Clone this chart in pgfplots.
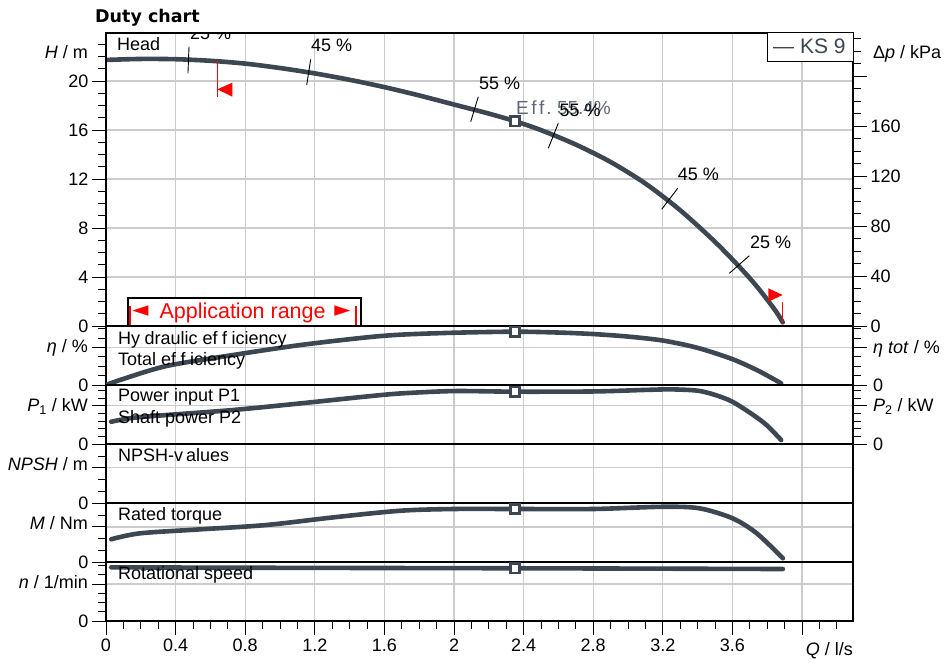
\documentclass[border=0pt]{standalone}
\usepackage{fontspec}
\setmainfont{Liberation Sans}
\newfontfamily\titlefont{DejaVu Sans}
\newfontfamily\symfont{DejaVu Sans}
\usepackage{pgfplots}
\pgfplotsset{compat=1.18}
\definecolor{crv}{RGB}{61,71,82}
\definecolor{gridc}{RGB}{204,204,204}
\definecolor{effgrey}{RGB}{95,105,118}
\newcommand{\fs}{\fontsize{18}{21}\selectfont}

\pgfplotsset{
 panel/.style={
  scale only axis, width=747pt, xmin=0, xmax=4.2931,
  xtick={0,0.4,0.8,1.2,1.6,2,2.4,2.8,3.2,3.6,4},
  minor xtick={0.1,0.2,0.3,0.5,0.6,0.7,0.9,1.0,1.1,1.3,1.4,1.5,1.7,1.8,1.9,2.1,2.2,2.3,2.5,2.6,2.7,2.9,3.0,3.1,3.3,3.4,3.5,3.7,3.8,3.9,4.1,4.2},
  xmajorgrids, ymajorgrids,
  major grid style={gridc, line width=1.2pt},
  tick align=outside,
  major tick length=14pt, minor tick length=8pt,
  every tick/.style={black, line width=0.9pt},
  axis line style={black, line width=1.3pt},
  ymin=0,
  ticklabel style={font=\fs},
  /pgf/number format/assume math mode=true,
  anchor=south west,
 },
 upper/.style={xticklabels={}, every x tick/.append style={draw=none}},
 curve/.style={crv, line width=4.6pt, line cap=round, smooth, no marks},
 op/.style={only marks, mark=square*, mark size=4.6pt, mark options={fill=white, draw=crv, line width=2.5pt}},
 effmark/.style={black, line width=0.9pt, no marks},
}

\begin{document}
\begin{tikzpicture}
\useasboundingbox (0,0) rectangle (944pt,663pt);

% ---------------- Head panel
\begin{axis}[panel, upper, at={(106pt,337pt)}, height=293pt, ymax=23.92,
  ytick={0,4,8,12,16,20}, yticklabels={0,4,8,12,16,20},
  minor ytick={1,2,3,5,6,7,9,10,11,13,14,15,17,18,19,21,22,23},
  ytick pos=left]
\addplot[curve] coordinates {
(0,21.72) (0.2,21.80) (0.4,21.78) (0.6,21.65) (0.8,21.42) (1.0,21.06)
(1.2,20.62) (1.4,20.10) (1.6,19.50) (1.8,18.82) (2.0,18.08) (2.2,17.34)
(2.35,16.72) (2.5,15.99) (2.7,14.81) (2.9,13.39) (3.1,11.63) (3.3,9.45)
(3.5,6.87) (3.65,4.68) (3.75,3.06) (3.85,1.20) (3.889,0.30)};
\addplot[op] coordinates {(2.35,16.72)};
% efficiency marks on the head curve
\addplot[effmark] coordinates {(0.477,22.80) (0.471,20.63)};
\addplot[effmark] coordinates {(1.1764,21.77) (1.1534,19.67)};
\addplot[effmark] coordinates {(2.1397,18.72) (2.0960,16.68)};
\addplot[effmark] coordinates {(2.5994,16.55) (2.5420,14.51)};
\addplot[effmark] coordinates {(3.2856,11.24) (3.1937,9.53)};
\addplot[effmark] coordinates {(3.6971,5.74) (3.5822,4.30)};
% application range flags
\addplot[red, line width=1.3pt, no marks] coordinates {(0.6397,21.66) (0.6397,18.72)};
\addplot[fill=red, draw=none, no marks] coordinates {(0.6397,19.32) (0.7259,19.86) (0.7259,18.72) (0.6397,19.32)};
\addplot[red, line width=1.3pt, no marks] coordinates {(3.889,1.98) (3.889,0.22)};
\addplot[fill=red, draw=none, no marks] coordinates {(3.806,3.08) (3.806,1.98) (3.889,2.53) (3.806,3.08)};
\end{axis}

% Delta p axis
\begin{axis}[scale only axis, width=747pt, height=293pt, at={(106pt,337pt)}, anchor=south west,
  xmin=0, xmax=4.2931, xtick=\empty, ymin=0, ymax=234.4,
  ytick={0,40,80,120,160,200}, yticklabels={0,40,80,120,160,{}},
  minor ytick={10,20,30,50,60,70,90,100,110,130,140,150,170,180,190,210,220,230},
  ytick pos=right, yticklabel pos=right,
  tick align=outside, major tick length=14pt, minor tick length=8pt,
  every tick/.style={black, line width=0.9pt},
  axis line style={black, line width=1.3pt},
  ticklabel style={font=\fs},
  /pgf/number format/assume math mode=true]
\end{axis}

% ---------------- Efficiency panel
\begin{axis}[panel, upper, at={(106pt,278pt)}, height=59pt, ymax=62.77,
  ytick={0,40}, yticklabels={0,{}}, minor ytick={10,20,30,50,60},
  ytick pos=both, yticklabel pos=left]
\addplot[curve] coordinates {
(0.00,0.0) (0.10,6.5) (0.35,20.3) (0.73,31.9) (1.12,42.6) (1.50,50.7)
(1.70,53.6) (2.00,55.6) (2.35,56.7) (2.60,55.8) (2.80,54.2) (3.00,51.5)
(3.20,47.3) (3.40,39.5) (3.60,27.5) (3.75,15.0) (3.88,1.8)};
\addplot[op] coordinates {(2.35,56.7)};
\end{axis}

% ---------------- Power panel
\begin{axis}[panel, upper, at={(106pt,219pt)}, height=59pt, ymax=0.7692,
  ytick={0,0.5}, yticklabels={0,{}}, minor ytick={0.1,0.2,0.3,0.4,0.6,0.7},
  ytick pos=both, yticklabel pos=left]
\addplot[curve] coordinates {
(0.03,0.29) (0.15,0.34) (0.35,0.378) (0.73,0.443) (1.12,0.530) (1.50,0.620)
(1.70,0.660) (2.00,0.690) (2.35,0.682) (2.80,0.685) (3.10,0.705) (3.25,0.712)
(3.40,0.695) (3.50,0.640) (3.60,0.551) (3.72,0.378) (3.80,0.24) (3.88,0.052)};
\addplot[op] coordinates {(2.35,0.682)};
\end{axis}

% ---------------- NPSH panel
\begin{axis}[panel, upper, at={(106pt,160pt)}, height=59pt, ymax=5.043,
  ytick={0,3}, yticklabels={0,{}}, minor ytick={1,2,4,5}, ytick pos=left]
\end{axis}

% ---------------- Torque panel
\begin{axis}[panel, upper, at={(106pt,101pt)}, height=59pt, ymax=5.043,
  ytick={0,3}, yticklabels={0,{}}, minor ytick={1,2,4,5}, ytick pos=left]
\addplot[curve] coordinates {
(0.03,1.94) (0.195,2.45) (0.54,2.79) (0.92,3.16) (1.31,3.82) (1.69,4.38)
(2.00,4.53) (2.35,4.53) (2.80,4.53) (3.20,4.72) (3.41,4.59) (3.60,3.74)
(3.74,2.45) (3.89,0.32)};
\addplot[op] coordinates {(2.35,4.53)};
\end{axis}

% ---------------- Speed panel
\begin{axis}[panel, at={(106pt,42pt)}, height=59pt, ymax=6.378,
  ytick={0,4}, yticklabels={0,{}}, minor ytick={1,2,3,5,6}, ytick pos=left,
  xticklabels={0,0.4,0.8,1.2,1.6,2,2.4,2.8,3.2,3.6,{}}, xtick pos=bottom]
\addplot[curve] coordinates {(0.03,5.80) (1.00,5.75) (2.35,5.70) (3.89,5.62)};
\addplot[op] coordinates {(2.35,5.70)};
\end{axis}

% ---------------- texts
\node[anchor=base west, inner sep=0pt, font=\titlefont\bfseries\fontsize{17.5}{20}\selectfont] at (95pt,640.3pt) {Duty chart};

\begin{scope}[every node/.style={anchor=base east, inner sep=0pt, font=\fs}]
\node at (88pt,604.3pt) {\textit{H} / m};
\node at (88pt,310pt) {\textit{η} / \%};
\node at (88pt,251.3pt) {\textit{P}\textsubscript{1} / kW};
\node at (88pt,192.3pt) {\textit{NPSH} / m};
\node at (88pt,133pt) {\textit{M} / Nm};
\node at (88pt,74.7pt) {\textit{n} / 1/min};
\node at (853pt,7pt) {\textit{Q} / l/s};
\end{scope}

\begin{scope}[every node/.style={anchor=base west, inner sep=0pt, font=\fs}]
\node at (873pt,604.7pt) {Δ\textit{p} / kPa};
\node at (873pt,309.7pt) {\textit{η tot} / \%};
\node at (873pt,251.3pt) {\textit{P}\textsubscript{2} / kW};
\node[anchor=west] at (873pt,278pt) {0};
\node[anchor=west] at (873pt,219pt) {0};
\node at (117pt,612.3pt) {Head};
\node at (118pt,318.7pt) {Hy\kern4.5pt draulic ef\kern4.5pt f\kern4.5pt iciency};
\node at (118pt,297pt) {Total ef\kern4.5pt f\kern4.5pt iciency};
\node at (118pt,261.3pt) {Power input P1};
\node at (118pt,239pt) {Shaft power P2};
\node at (118pt,201.3pt) {NPSH-v\kern3pt alues};
\node at (118pt,142pt) {Rated torque};
\node at (118pt,83pt) {Rotational speed};
% efficiency labels
\node at (311pt,611.3pt) {45 \%};
\node at (479pt,573pt) {55 \%};
\node[text=effgrey, font=\fontsize{19}{22}\selectfont] at (516pt,548pt) {E\kern2.5pt f\kern2.5pt f\kern2pt .\ 55.4\%};
\node at (559.3pt,546.3pt) {55 \%};
\node at (677.7pt,482pt) {45 \%};
\node at (750pt,414pt) {25 \%};
\end{scope}
\begin{scope}
\clip (106pt,337pt) rectangle (853pt,630pt);
\node[anchor=base west, inner sep=0pt, font=\fs] at (190pt,623pt) {25 \%};
\end{scope}

% legend box
\draw[black, line width=1pt, fill=white] (767pt,630pt) rectangle (853pt,601.3pt);
\node[anchor=base west, inner sep=0pt, text=crv, font=\fontsize{21}{24}\selectfont] at (773pt,609.7pt) {— KS 9};

% application range box
\draw[black, line width=1.2pt, fill=white] (128pt,365pt) rectangle (361pt,337pt);
\draw[red, line width=2.2pt] (130pt,357pt) -- (130pt,337.5pt);
\draw[red, line width=2.2pt] (356pt,357pt) -- (356pt,337.5pt);
\node[inner sep=0pt, text=red, font=\symfont\fontsize{21}{24}\selectfont] at (140.5pt,352pt) {◄};
\node[inner sep=0pt, text=red, font=\symfont\fontsize{21}{24}\selectfont] at (342.5pt,352pt) {►};
\node[anchor=base west, inner sep=0pt, text=red, font=\fontsize{21.5}{24}\selectfont] at (159.3pt,344.7pt) {Application range};

\end{tikzpicture}
\end{document}
